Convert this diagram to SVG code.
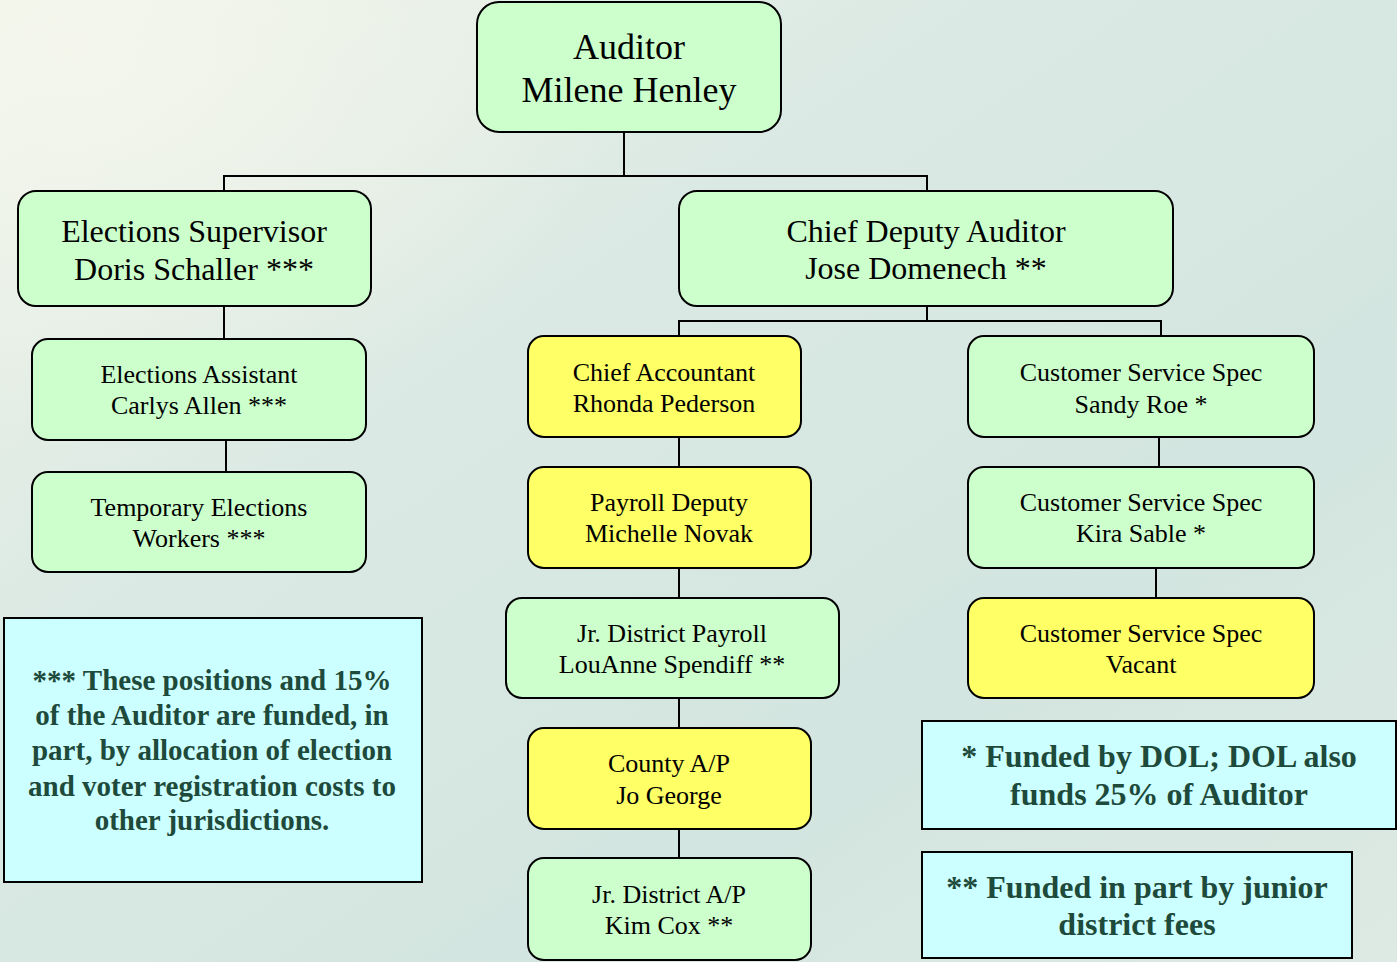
<svg xmlns="http://www.w3.org/2000/svg" width="1397" height="962" viewBox="0 0 1397 962">
<defs>
<linearGradient id="bg" x1="0" y1="0" x2="1" y2="1">
<stop offset="0" stop-color="#f0f4e8"/>
<stop offset="0.35" stop-color="#dbe9e4"/>
<stop offset="0.7" stop-color="#d3e5e0"/>
<stop offset="1" stop-color="#dde9e3"/>
</linearGradient>
<radialGradient id="hl" cx="0.05" cy="0.05" r="0.4">
<stop offset="0" stop-color="#f4f6ec" stop-opacity="0.9"/>
<stop offset="1" stop-color="#f4f6ec" stop-opacity="0"/>
</radialGradient>
<style>
.g{fill:#ccffcc;stroke:#000;stroke-width:2}
.y{fill:#ffff66;stroke:#000;stroke-width:2}
.n{fill:#ccffff;stroke:#000;stroke-width:2}
.t{font-family:"Liberation Serif","Times New Roman",serif;fill:#000;text-anchor:middle}
.big{font-size:36px}
.mid{font-size:32px}
.sm{font-size:26px}
.note{font-family:"Liberation Serif","Times New Roman",serif;font-weight:bold;fill:#1e4a3b;text-anchor:middle}
.c{fill:none;stroke:#000;stroke-width:2}
</style>
</defs>
<rect width="1397" height="962" fill="url(#bg)"/>
<rect width="1397" height="962" fill="url(#hl)"/>
<g id="connectors">
<path class="c" d="M624 132V176M224 191V176H927V191"/>
<path class="c" d="M224 306V339M226 440V472"/>
<path class="c" d="M927 306V321M679 337V321H1161V337"/>
<path class="c" d="M679 437V467M679 568V598M679 698V728M679 829V858"/>
<path class="c" d="M1159 437V467M1156 568V598"/>
</g>
<g id="auditor"><rect class="g" x="477" y="2" width="304" height="130" rx="22"/><text class="t big" x="629" y="59">Auditor</text><text class="t big" x="629" y="102">Milene Henley</text></g>
<g id="elections-supervisor"><rect class="g" x="18" y="191" width="353" height="115" rx="18"/><text class="t mid" x="194" y="242">Elections Supervisor</text><text class="t mid" x="194" y="280">Doris Schaller ***</text></g>
<g id="chief-deputy"><rect class="g" x="679" y="191" width="494" height="115" rx="18"/><text class="t mid" x="926" y="242">Chief Deputy Auditor</text><text class="t mid" x="926" y="279">Jose Domenech **</text></g>
<g id="elections-assistant"><rect class="g" x="32" y="339" width="334" height="101" rx="16"/><text class="t sm" x="199" y="383">Elections Assistant</text><text class="t sm" x="199" y="414">Carlys Allen ***</text></g>
<g id="temporary-workers"><rect class="g" x="32" y="472" width="334" height="100" rx="16"/><text class="t sm" x="199" y="516">Temporary Elections</text><text class="t sm" x="199" y="547">Workers ***</text></g>
<g id="chief-accountant"><rect class="y" x="528" y="336" width="273" height="101" rx="16"/><text class="t sm" x="664" y="381">Chief Accountant</text><text class="t sm" x="664" y="412">Rhonda Pederson</text></g>
<g id="payroll-deputy"><rect class="y" x="528" y="467" width="283" height="101" rx="16"/><text class="t sm" x="669" y="511">Payroll Deputy</text><text class="t sm" x="669" y="542">Michelle Novak</text></g>
<g id="jr-district-payroll"><rect class="g" x="506" y="598" width="333" height="100" rx="16"/><text class="t sm" x="672" y="642">Jr. District Payroll</text><text class="t sm" x="672" y="673">LouAnne Spendiff **</text></g>
<g id="county-ap"><rect class="y" x="528" y="728" width="283" height="101" rx="16"/><text class="t sm" x="669" y="772">County A/P</text><text class="t sm" x="669" y="804">Jo George</text></g>
<g id="jr-district-ap"><rect class="g" x="528" y="858" width="283" height="102" rx="16"/><text class="t sm" x="669" y="903">Jr. District A/P</text><text class="t sm" x="669" y="934">Kim Cox **</text></g>
<g id="css-sandy"><rect class="g" x="968" y="336" width="346" height="101" rx="16"/><text class="t sm" x="1141" y="381">Customer Service Spec</text><text class="t sm" x="1141" y="413">Sandy Roe *</text></g>
<g id="css-kira"><rect class="g" x="968" y="467" width="346" height="101" rx="16"/><text class="t sm" x="1141" y="511">Customer Service Spec</text><text class="t sm" x="1141" y="542">Kira Sable *</text></g>
<g id="css-vacant"><rect class="y" x="968" y="598" width="346" height="100" rx="16"/><text class="t sm" x="1141" y="642">Customer Service Spec</text><text class="t sm" x="1141" y="673">Vacant</text></g>
<g id="note-elections"><rect class="n" x="4" y="618" width="418" height="264"/>
<text class="note" font-size="29" x="212" y="690">*** These positions and 15%</text>
<text class="note" font-size="29" x="212" y="725">of the Auditor are funded, in</text>
<text class="note" font-size="29" x="212" y="760">part, by allocation of election</text>
<text class="note" font-size="29" x="212" y="796">and voter registration costs to</text>
<text class="note" font-size="29" x="212" y="830">other jurisdictions.</text></g>
<g id="note-dol"><rect class="n" x="922" y="721" width="474" height="108"/>
<text class="note" font-size="32" x="1159" y="767">* Funded by DOL; DOL also</text>
<text class="note" font-size="32" x="1159" y="805">funds 25% of Auditor</text></g>
<g id="note-junior"><rect class="n" x="922" y="852" width="430" height="106"/>
<text class="note" font-size="32" x="1137" y="898">** Funded in part by junior</text>
<text class="note" font-size="32" x="1137" y="935">district fees</text></g>
</svg>
